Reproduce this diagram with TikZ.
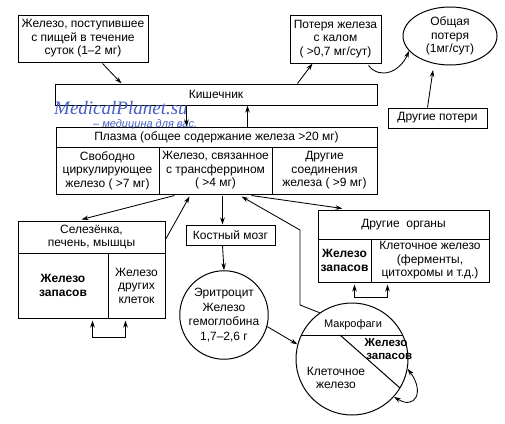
\documentclass[tikz,border=0pt]{standalone}
\usepackage{fontspec}
\setmainfont{Liberation Sans}
\newfontfamily\wmserif{Liberation Serif}
\usetikzlibrary{arrows.meta,calc,shapes.geometric}
\definecolor{wmblue}{RGB}{70,95,200}
\tikzset{
  bx/.style={draw, line width=1pt, inner sep=0pt, align=center, font=\fontsize{12}{13.5}\selectfont},
  arr/.style={line width=0.85pt, -{Stealth[length=7pt,width=4.5pt]}},
  darr/.style={line width=0.85pt, {Stealth[length=7pt,width=4.5pt]}-{Stealth[length=7pt,width=4.5pt]}},
  bld/.style={font=\fontsize{12}{14}\selectfont\bfseries},
}
\begin{document}
\begin{tikzpicture}[x=1pt,y=-1pt]
\useasboundingbox (0,0) rectangle (505,423);
% top row
\node[bx, minimum width=130pt, minimum height=47pt] (food) at (83,38.5) {Железо, поступившее\\с пищей в течение\\суток (1–2 мг)};
\node[bx, minimum width=91pt, minimum height=48pt] (loss) at (335.5,39) {Потеря железа\\с калом\\( >0,7 мг/сут)};
\node[bx, ellipse, minimum width=94pt, minimum height=58pt] (total) at (450,36) {Общая\\потеря\\(1мг/сут)};
\node[bx, minimum width=99pt, minimum height=20pt] (oloss) at (437.5,118) {Другие потери};
% intestine and plasma
\node[bx, minimum width=322pt, minimum height=21pt] (kish) at (216,94.5) {Кишечник};
\node[bx, minimum width=321pt, minimum height=20pt] (plasma) at (216.5,137) {Плазма (общее содержание железа >20 мг)};
\node[bx, minimum width=103pt, minimum height=47pt] (free) at (107.5,170.5) {Свободно\\циркулирующее\\железо ( >7 мг)};
\node[bx, minimum width=113pt, minimum height=47pt] (trans) at (215.5,170.5) {Железо, связанное\\с трансферрином\\( >4 мг)};
\node[bx, minimum width=105pt, minimum height=47pt] (othc) at (324.5,170.5) {Другие\\соединения\\железа ( >9 мг)};
% spleen
\node[bx, minimum width=147pt, minimum height=32pt] (spleen) at (91.5,237) {Селезёнка,\\печень, мышцы};
\node[bx, bld, minimum width=90pt, minimum height=65pt] (sstore) at (63,285.5) {Железо\\запасов};
\node[bx, minimum width=57pt, minimum height=65pt] (sother) at (136.5,285.5) {Железо\\других\\клеток};
% marrow, erythrocyte
\node[bx, minimum width=89pt, minimum height=20pt] (marrow) at (230.5,235) {Костный мозг};
\node[bx, circle, minimum size=84pt, font=\fontsize{12}{14.5}\selectfont] (ery) at (224,315) {Эритроцит\\Железо\\гемоглобина\\1,7–2,6 г};
% other organs
\node[bx, minimum width=171pt, minimum height=29pt] (organs) at (403.5,224.5) {Другие\ \ органы};
\node[bx, bld, minimum width=53pt, minimum height=43pt] (ostore) at (344.5,260.5) {Железо\\запасов};
\node[bx, minimum width=118pt, minimum height=43pt] (ocell) at (430,260.5) {Клеточное железо\\(ферменты,\\цитохромы и т.д.)};
% macrophages
\node[draw, line width=1pt, circle, minimum size=112pt, inner sep=0pt] (macro) at (352,359) {};
\draw[line width=1pt] ($(macro.center)+(-50.6,-24)$) coordinate (chl) -- ($(macro.center)+(50.6,-24)$) coordinate (chr);
\draw[line width=1pt] ($(macro.center)+(-12,-24)$) coordinate (dga) -- ($(macro.center)+(48,29)$) coordinate (dgb);
\node[font=\fontsize{11}{12}\selectfont] (mlab) at ($(macro.center)+(1,-34)$) {Макрофаги};
\node[align=center, font=\fontsize{11.5}{12.5}\selectfont\bfseries] (mstore) at ($(macro.center)+(34,-10)$) {Железо\\\ \ запасов};
\node[align=center, font=\fontsize{12}{13.5}\selectfont] (mcell) at ($(macro.center)+(-16,19)$) {Клеточное\\железо};
% watermark
\node[anchor=base west, text=wmblue, font=\wmserif\fontsize{19}{20}\selectfont\itshape, inner sep=0pt] (wm1) at (54,114) {MedicalPlanet.su};
\node[anchor=base west, text=wmblue, font=\fontsize{11}{12}\selectfont\itshape, inner sep=0pt] (wm2) at (93,127) {– медицина для вас.};
% arrows top
\draw[arr] ($(food.south west)+(85,1)$) -- ($(kish.north west)+(67,0)$);
\draw[arr] ($(kish.north west)+(243,0)$) -- ($(loss.south west)+(23,0)$);
\draw[arr] ($(loss.south east)+(-13,2)$) .. controls (380,80) and (400,72) .. (total.200);
\draw[arr] ($(oloss.north)+(-10,0)$) -- (433,70);
\draw[arr] ($(kish.south west)+(132,0)$) -- ($(plasma.north west)+(131,0)$);
\draw[arr] ($(plasma.north west)+(192,0)$) -- ($(kish.south west)+(193,0)$);
% arrows middle
\draw[arr] ($(trans.south west)+(16,1)$) -- ($(spleen.north west)+(64,-1)$);
\draw[arr] ($(spleen.north east)+(0,19)$) -- ($(trans.south west)+(31,2)$);
\draw[arr] ($(trans.south west)+(64,1)$) -- (marrow.north -| {$(trans.south west)+(64,1)$});
\draw[arr] ($(marrow.south west)+(37,0)$) -- (ery.north);
\draw[arr] (ery.-15) -- (macro.165);
\draw[arr] (macro.125) -- (300,305) -- (300,230) -- ($(trans.south west)+(83,2)$);
\draw[arr] ($(trans.south west)+(93,1)$) -- ($(organs.north west)+(25,-1)$);
% brackets
\draw[darr] ($(sstore.south west)+(75,2)$) -- ++(0,17) -| ($(sother.south west)+(18,2)$);
\draw[darr] ($(ostore.south west)+(37,2)$) -- ++(0,13) -| ($(ocell.south west)+(17,2)$);
\draw[darr] (macro.-10) .. controls (425,392) and (415,410) .. (macro.-42);
\end{tikzpicture}
\end{document}
